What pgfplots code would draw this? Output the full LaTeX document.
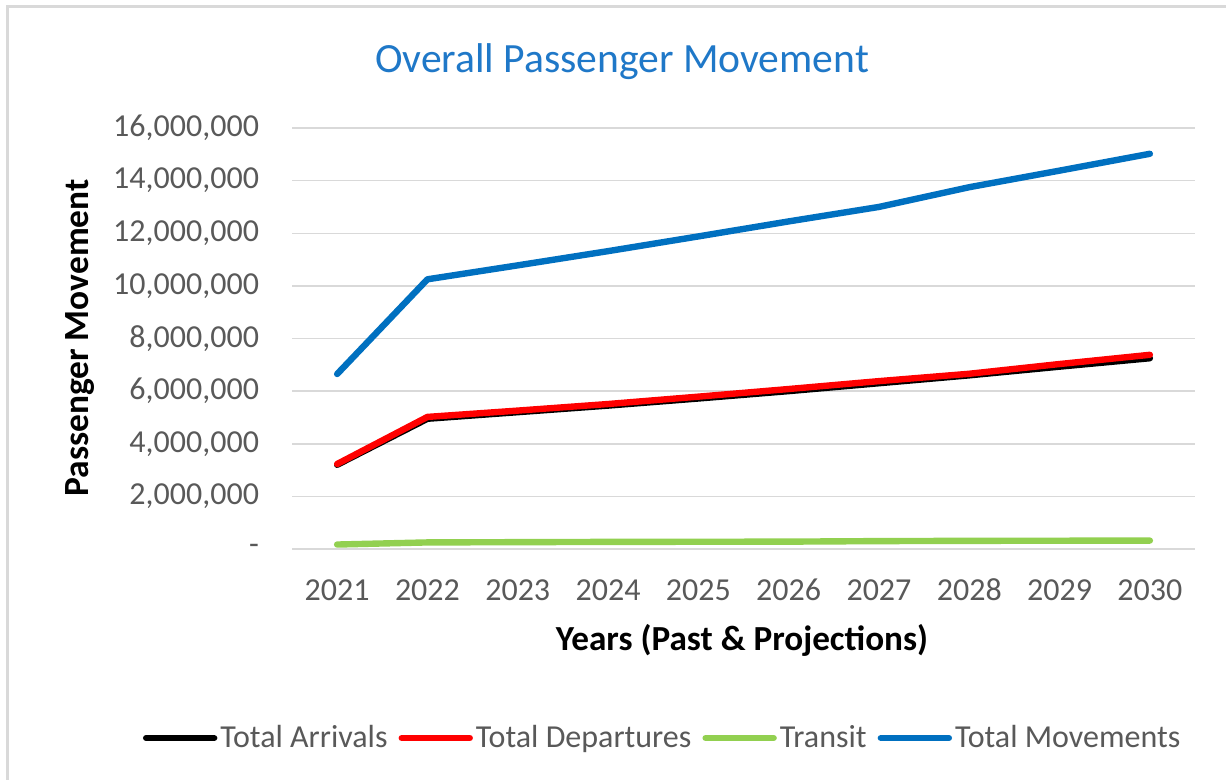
\documentclass[border=0pt]{standalone}
\usepackage{fontspec}
\setmainfont{Carlito}
\usepackage{pgfplots}
\pgfplotsset{compat=1.18}
\definecolor{tblue}{HTML}{0070C0}
\definecolor{titleblue}{HTML}{1F78C8}
\definecolor{tred}{HTML}{FF0000}
\definecolor{tgreen}{HTML}{92D050}
\definecolor{txtgray}{HTML}{595959}
\definecolor{gridgray}{HTML}{D9D9D9}
\begin{document}
\begin{tikzpicture}[x=0.5pt,y=0.5pt]
\useasboundingbox (0,0) rectangle (1226,-780);
\fill[white] (0,0) rectangle (1226,-780);
\draw[gridgray, line width=1.5pt] (7.5,-790) -- (7.5,-6.5) -- (1240,-6.5);
\node[font=\fontsize{20.8}{24}\selectfont, text=titleblue] at (622,-62) {Overall Passenger Movement};
\node[font=\bfseries\fontsize{17.7}{21}\selectfont, rotate=90] at (80,-338) {Passenger Movement};
\node[font=\bfseries\fontsize{17.6}{21}\selectfont] at (742,-640) {Years (Past \& Projections)};
\begin{axis}[
  at={(146pt,-274.5pt)}, anchor=south west, scale only axis,
  width=451.5pt, height=210.5pt,
  xmin=-0.5, xmax=9.5, ymin=0, ymax=16000000,
  scaled y ticks=false,
  axis line style={draw=none},
  major tick length=0pt,
  ymajorgrids, grid style={gridgray, line width=0.75pt},
  ytick={0,2000000,4000000,6000000,8000000,10000000,12000000,14000000,16000000},
  yticklabels={{-},{2,000,000},{4,000,000},{6,000,000},{8,000,000},{10,000,000},{12,000,000},{14,000,000},{16,000,000}},
  xtick={0,1,2,3,4,5,6,7,8,9},
  xticklabels={2021,2022,2023,2024,2025,2026,2027,2028,2029,2030},
  tick label style={font=\fontsize{16}{19}\selectfont, text=txtgray},
  yticklabel style={xshift=-13pt},
  xticklabel style={yshift=-11pt, text height=11pt, text depth=0pt},
  legend style={at={(0.411,-0.449)}, anchor=center, draw=none, fill=none,
    legend columns=4, font=\fontsize{16}{19}\selectfont, text=txtgray,
    /tikz/every even column/.append style={column sep=4pt},
    nodes={inner xsep=1.5pt}},
  legend image code/.code={\draw[#1, line cap=round] (0pt,0pt) -- (34pt,0pt);},
  every axis plot/.append style={line width=3.2pt, line cap=round, line join=round},
]
\addplot[black] coordinates {(0,3200000)(1,4950000)(2,5200000)(3,5450000)(4,5720000)(5,6000000)(6,6300000)(7,6600000)(8,6930000)(9,7250000)};
\addlegendentry{Total Arrivals}
\addplot[tred] coordinates {(0,3230000)(1,5020000)(2,5260000)(3,5510000)(4,5790000)(5,6080000)(6,6380000)(7,6660000)(8,7030000)(9,7380000)};
\addlegendentry{Total Departures}
\addplot[tgreen] coordinates {(0,170000)(1,250000)(2,260000)(3,270000)(4,275000)(5,280000)(6,300000)(7,310000)(8,315000)(9,320000)};
\addlegendentry{Transit}
\addplot[tblue] coordinates {(0,6650000)(1,10250000)(2,10780000)(3,11320000)(4,11880000)(5,12450000)(6,13000000)(7,13750000)(8,14380000)(9,15020000)};
\addlegendentry{Total Movements}
\end{axis}
\end{tikzpicture}
\end{document}
